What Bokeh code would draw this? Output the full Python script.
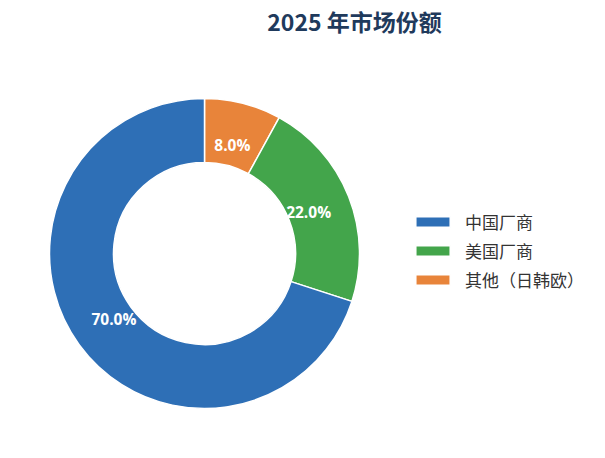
import numpy as np
from bokeh.plotting import figure
from bokeh.models import ColumnDataSource, Range1d, Legend, LegendItem
from bokeh.core.properties import value
from bokeh.embed import file_html
from bokeh.resources import INLINE

title_text = "2025 年市场份额"
categories = ["中国厂商", "美国厂商", "其他（日韩欧）"]
shares = [70.0, 22.0, 8.0]
colors = ["#2E6FB6", "#43A54B", "#E8843A"]

W, H = 589, 442
CX, CY = 204, H - 253
R_IN, R_OUT, R_LAB = 91, 155, 112

# draw order: clockwise from 12 o'clock: others, US, China
order = [2, 1, 0]
vals = np.array([shares[i] for i in order])
frac = vals / vals.sum()
cum = np.cumsum(frac)
prev = np.concatenate([[0.0], cum[:-1]])
start = np.pi / 2 - prev * 2 * np.pi
end = np.pi / 2 - cum * 2 * np.pi
mid = (start + end) / 2

src = ColumnDataSource(dict(
    cat=[categories[i] for i in order],
    val=vals,
    color=[colors[i] for i in order],
    start=start, end=end,
    lx=CX + R_LAB * np.cos(mid), ly=CY + R_LAB * np.sin(mid),
    lab=[f"{v:.1f}%" for v in vals],
))

p = figure(width=W, height=H, output_backend="svg", toolbar_location=None,
           x_range=Range1d(0, W), y_range=Range1d(0, H), min_border=0,
           outline_line_color=None)
p.axis.visible = False
p.grid.visible = False

rs = []
for k in range(len(order)):
    view_src = ColumnDataSource({key: [src.data[key][k]] for key in src.data})
    r = p.annular_wedge(x=CX, y=CY, inner_radius=R_IN, outer_radius=R_OUT,
                        start_angle="start", end_angle="end", direction="clock",
                        fill_color="color", line_color="white", line_width=1.5,
                        source=view_src)
    rs.append(r)

p.text(x="lx", y="ly", text="lab", source=src, text_color="white",
       text_font=value("Open Sans"), text_font_style="bold", text_font_size="15.5px",
       text_align="center", text_baseline="middle")

p.text(x=[354], y=[H - 20], text=[title_text], text_color="#1F3A5C",
       text_font=value("Noto Sans CJK SC"), text_font_style="bold",
       text_font_size="23px", text_align="center", text_baseline="middle")

# legend in category order
items = []
for i, c in enumerate(categories):
    k = order.index(i)
    items.append(LegendItem(label=c, renderers=[rs[k]]))
legend = Legend(items=items, location=(401, 140), glyph_width=43, glyph_height=13,
                label_height=20, spacing=4, label_standoff=11, padding=10,
                label_text_font="Noto Sans CJK SC", label_text_font_size="17px",
                label_text_color="#333333", border_line_alpha=0,
                background_fill_alpha=0)
p.add_layout(legend, "center")

open("out.html", "w").write(file_html(p, INLINE))
